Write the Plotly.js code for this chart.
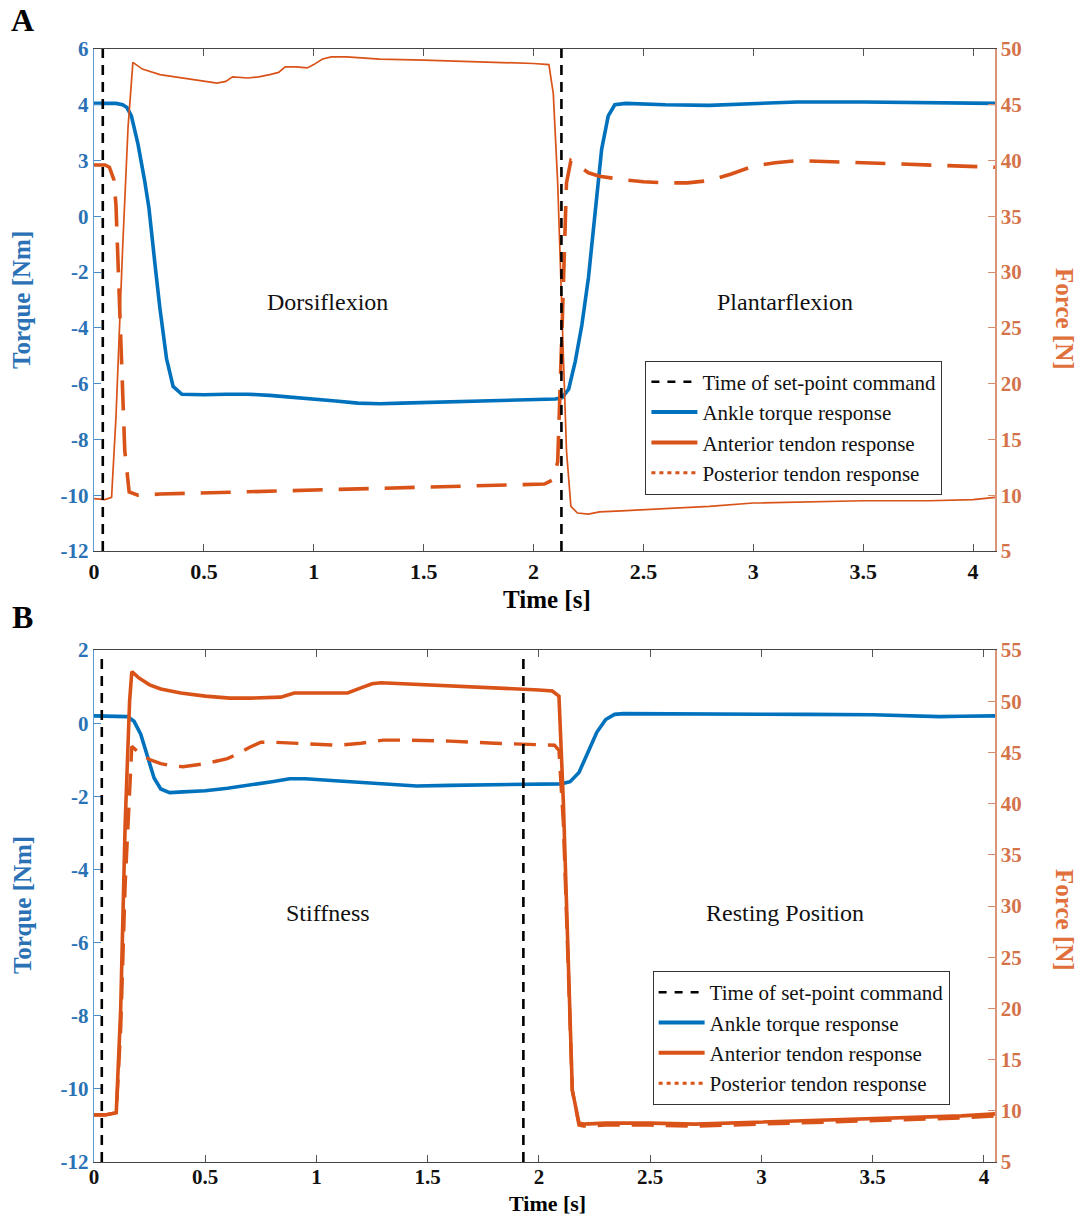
<!DOCTYPE html>
<html>
<head>
<meta charset="utf-8">
<script src="https://cdn.plot.ly/plotly-3.0.1.min.js"></script>
<style>html,body{margin:0;padding:0;background:#fff;}#chart{width:1080px;height:1217px;}</style>
</head>
<body>
<div id="chart"></div>
<script>
// ---------- Panel A data ----------
const A_cmd_t = [0.04, 2.127];
const A_torque_t = [0, 0.05, 0.10, 0.13, 0.15, 0.17, 0.20, 0.23, 0.25, 0.28, 0.30, 0.33, 0.36, 0.40, 0.45, 0.5, 0.6, 0.7, 0.8, 0.9, 1.0, 1.1, 1.2, 1.3, 1.4, 1.5, 1.7, 1.9, 2.0, 2.1, 2.13, 2.16, 2.19, 2.22, 2.25, 2.28, 2.31, 2.34, 2.37, 2.42, 2.6, 2.8, 3.0, 3.2, 3.5, 3.8, 4.1];
const A_torque_v = [4.05, 4.05, 4.05, 4.0, 3.9, 3.6, 2.6, 1.3, 0.3, -1.9, -3.3, -5.1, -6.1, -6.38, -6.4, -6.4, -6.38, -6.38, -6.42, -6.48, -6.55, -6.62, -6.7, -6.72, -6.7, -6.68, -6.65, -6.62, -6.6, -6.55, -6.5, -6.2, -5.2, -3.9, -2.2, 0.2, 2.4, 3.6, 4.0, 4.05, 4.0, 3.98, 4.03, 4.1, 4.1, 4.08, 4.05];
const A_ant_t = [0, 0.05, 0.08, 0.10, 0.13, 0.155, 0.177, 0.22, 0.3, 0.4, 0.5, 0.56, 0.6, 0.63, 0.7, 0.75, 0.8, 0.84, 0.87, 0.92, 0.97, 1.0, 1.04, 1.08, 1.15, 1.3, 1.5, 1.7, 1.9, 2.0, 2.07, 2.09, 2.11, 2.13, 2.15, 2.17, 2.2, 2.25, 2.3, 2.4, 2.6, 2.8, 3.0, 3.2, 3.5, 3.8, 4.0, 4.1];
const A_ant_f = [9.7, 9.6, 9.8, 17, 32, 43, 48.8, 48.2, 47.7, 47.4, 47.1, 46.95, 47.1, 47.5, 47.4, 47.5, 47.7, 47.9, 48.4, 48.4, 48.3, 48.6, 49.1, 49.3, 49.3, 49.1, 49.0, 48.9, 48.8, 48.7, 48.6, 46, 38, 25, 14, 9.0, 8.4, 8.3, 8.5, 8.6, 8.8, 9.0, 9.3, 9.4, 9.5, 9.5, 9.6, 9.8];
const A_post_t = [0, 0.05, 0.07, 0.09, 0.10, 0.12, 0.14, 0.16, 0.2, 0.3, 0.5, 0.8, 1.0, 1.3, 1.6, 1.9, 2.05, 2.09, 2.11, 2.13, 2.15, 2.17, 2.2, 2.25, 2.3, 2.4, 2.5, 2.6, 2.7, 2.8, 2.9, 3.0, 3.1, 3.2, 3.5, 3.8, 4.0, 4.1];
const A_post_f = [39.6, 39.6, 39.4, 38.3, 36, 25, 14, 10.3, 10.0, 10.1, 10.2, 10.4, 10.5, 10.6, 10.8, 10.9, 11.0, 11.4, 13.0, 25, 38, 40.0, 39.6, 38.9, 38.6, 38.3, 38.1, 38.0, 38.0, 38.2, 38.8, 39.5, 39.8, 40.0, 39.8, 39.6, 39.5, 39.4];

// ---------- Panel B data ----------
const B_cmd_t = [0.035, 1.93];
const B_torque_t = [0, 0.1, 0.15, 0.18, 0.21, 0.24, 0.27, 0.3, 0.34, 0.4, 0.5, 0.6, 0.7, 0.8, 0.88, 0.95, 1.05, 1.15, 1.25, 1.35, 1.45, 1.6, 1.8, 2.0, 2.1, 2.14, 2.18, 2.22, 2.26, 2.3, 2.34, 2.38, 2.5, 2.8, 3.2, 3.5, 3.6, 3.7, 3.8, 3.9, 4.05];
const B_torque_v = [0.2, 0.2, 0.18, 0.05, -0.3, -0.9, -1.5, -1.8, -1.9, -1.88, -1.85, -1.78, -1.7, -1.6, -1.52, -1.52, -1.56, -1.6, -1.62, -1.68, -1.72, -1.7, -1.68, -1.66, -1.66, -1.6, -1.35, -0.8, -0.25, 0.1, 0.24, 0.26, 0.26, 0.25, 0.24, 0.23, 0.21, 0.19, 0.18, 0.19, 0.2];
const B_ant_t = [0, 0.05, 0.1, 0.12, 0.14, 0.16, 0.17, 0.2, 0.25, 0.3, 0.39, 0.5, 0.61, 0.7, 0.84, 0.9, 1.0, 1.14, 1.2, 1.25, 1.29, 1.4, 1.6, 1.8, 2.0, 2.06, 2.09, 2.11, 2.13, 2.15, 2.18, 2.2, 2.3, 2.5, 2.7, 3.0, 3.3, 3.6, 3.9, 4.05];
const B_ant_f = [9.6, 9.6, 9.8, 20, 38, 50, 52.9, 52.3, 51.6, 51.2, 50.8, 50.5, 50.3, 50.3, 50.4, 50.8, 50.8, 50.8, 51.3, 51.7, 51.8, 51.7, 51.5, 51.3, 51.1, 51.0, 50.5, 40, 25, 12, 8.8, 8.7, 8.8, 8.8, 8.7, 8.9, 9.1, 9.3, 9.5, 9.7];
const B_post_t = [0, 0.05, 0.1, 0.12, 0.14, 0.16, 0.17, 0.2, 0.25, 0.3, 0.35, 0.4, 0.5, 0.6, 0.65, 0.7, 0.75, 0.8, 0.9, 1.0, 1.1, 1.2, 1.3, 1.4, 1.6, 1.8, 2.0, 2.07, 2.09, 2.11, 2.13, 2.15, 2.18, 2.2, 2.3, 2.5, 2.7, 3.0, 3.3, 3.6, 3.9, 4.05];
const B_post_f = [9.6, 9.6, 9.8, 18, 32, 42, 45.6, 45.0, 44.3, 43.9, 43.7, 43.6, 43.9, 44.4, 44.9, 45.5, 46.0, 46.0, 45.9, 45.8, 45.7, 45.9, 46.2, 46.2, 46.1, 45.9, 45.8, 45.7, 45.2, 38, 25, 12, 8.6, 8.5, 8.6, 8.6, 8.5, 8.7, 8.9, 9.1, 9.3, 9.5];

// ---------- Tick labels ----------
const x_ticks = [0, 0.5, 1, 1.5, 2, 2.5, 3, 3.5, 4];
const x_tick_text = ['0', '0.5', '1', '1.5', '2', '2.5', '3', '3.5', '4'];
const A_torque_ticks = [-12, -10, -8, -6, -4, -2, 0, 2, 4, 6];
const A_torque_tick_text = ['-12', '-10', '-8', '-6', '-4', '-2', '0', '3', '4', '6'];
const A_force_ticks = [5, 10, 15, 20, 25, 30, 35, 40, 45, 50];
const B_torque_ticks = [-12, -10, -8, -6, -4, -2, 0, 2];
const B_force_ticks = [5, 10, 15, 20, 25, 30, 35, 40, 45, 50, 55];
const legend_names = ['Time of set-point command', 'Ankle torque response', 'Anterior tendon response', 'Posterior tendon response'];
const region_labels_A = ['Dorsiflexion', 'Plantarflexion'];
const region_labels_B = ['Stiffness', 'Resting Position'];

const BLUE = '#0072BD';
const ORANGE = '#D95319';
const SERIF = '"Liberation Serif", "Times New Roman", serif';
const TICKBLUE = '#2a72b5';
const TICKORANGE = '#d4724a';

const traces = [
  // Panel A
  {x: A_torque_t, y: A_torque_v, xaxis: 'x', yaxis: 'y', mode: 'lines', line: {color: BLUE, width: 3.6}, showlegend: false},
  {x: A_ant_t, y: A_ant_f, xaxis: 'x', yaxis: 'y2', mode: 'lines', line: {color: ORANGE, width: 1.7}, showlegend: false},
  {x: A_post_t, y: A_post_f, xaxis: 'x', yaxis: 'y2', mode: 'lines', line: {color: ORANGE, width: 3.6, dash: '30px,16px'}, showlegend: false},
  // Panel B
  {x: B_post_t, y: B_post_f, xaxis: 'x2', yaxis: 'y4', mode: 'lines', line: {color: ORANGE, width: 3.4, dash: '22px,12px'}, showlegend: false},
  {x: B_ant_t, y: B_ant_f, xaxis: 'x2', yaxis: 'y4', mode: 'lines', line: {color: ORANGE, width: 3.6}, showlegend: false},
  {x: B_torque_t, y: B_torque_v, xaxis: 'x2', yaxis: 'y3', mode: 'lines', line: {color: BLUE, width: 3.6}, showlegend: false}
];

// legend-only entries
const legendStyles = [
  {color: '#000', width: 2.5, dash: '8px,8px'},
  {color: BLUE, width: 4},
  {color: ORANGE, width: 4},
  {color: ORANGE, width: 3, dash: '4px,4px'}
];
['legend', 'legend2'].forEach(function (lg, k) {
  legend_names.forEach(function (nm, i) {
    traces.push({x: [null], y: [null], xaxis: k ? 'x2' : 'x', yaxis: k ? 'y3' : 'y', mode: 'lines',
      name: nm, line: legendStyles[i], legend: lg, showlegend: true});
  });
});

const shapes = [];
A_cmd_t.forEach(function (t) {
  shapes.push({type: 'line', xref: 'x', yref: 'y domain', x0: t, x1: t, y0: 0, y1: 1,
    line: {color: '#000', width: 2.6, dash: '10px,7px'}});
});
B_cmd_t.forEach(function (t) {
  shapes.push({type: 'line', xref: 'x2', yref: 'y3 domain', x0: t, x1: t, y0: 0, y1: 0.985,
    line: {color: '#000', width: 2.6, dash: '10px,7px'}});
});

function xAxis(anchor, range, standoff, fsize) {
  return {
    domain: [0, 1], anchor: anchor, range: range,
    tickvals: x_ticks, ticktext: x_tick_text,
    ticks: 'inside', ticklen: 7, tickcolor: '#555', tickwidth: 1,
    ticklabelstandoff: standoff,
    showline: true, linecolor: '#444', linewidth: 1.2, mirror: 'ticks',
    showgrid: false, zeroline: false,
    tickfont: {family: SERIF, size: fsize, color: '#111', weight: 'bold'}
  };
}
function leftAxis(domain, anchor, range, tv, tt) {
  return {
    domain: domain, anchor: anchor, range: range, tickvals: tv, ticktext: tt,
    ticks: 'inside', ticklen: 7, tickcolor: '#4a8cc8', showline: true, linecolor: '#5f9bd0', linewidth: 1.3,
    showgrid: false, zeroline: false,
    tickfont: {family: SERIF, size: 21, color: TICKBLUE, weight: 'bold'}
  };
}
function rightAxis(overlay, anchor, range, tv) {
  return {
    overlaying: overlay, anchor: anchor, side: 'right', range: range, tickvals: tv,
    ticks: 'inside', ticklen: 7, tickcolor: '#d98c6c', showline: true, linecolor: '#dc9478', linewidth: 1.5,
    showgrid: false, zeroline: false,
    tickfont: {family: SERIF, size: 21, color: TICKORANGE, weight: 'bold'}
  };
}

function ann(text, x, y, size, color, weight, angle) {
  const a = {text: text, xref: 'paper', yref: 'paper', x: x, y: y, xanchor: 'center', yanchor: 'middle',
    showarrow: false, font: {family: SERIF, size: size, color: color, weight: weight}};
  if (angle) a.textangle = angle;
  return a;
}

const legendCommon = {xanchor: 'left', yanchor: 'top', bgcolor: '#fff', bordercolor: '#333', borderwidth: 1,
  font: {family: SERIF, size: 21, color: '#111'}, tracegroupgap: 0, itemwidth: 46};

const layout = {
  width: 1080, height: 1217,
  margin: {l: 94, r: 85, t: 49, b: 55},
  paper_bgcolor: '#fff', plot_bgcolor: '#fff',
  font: {family: SERIF},
  xaxis: xAxis('y', [0, 4.1], 0, 22),
  yaxis: leftAxis([0.549, 1], 'x', [-12, 6], A_torque_ticks, A_torque_tick_text),
  yaxis2: rightAxis('y', 'x', [5, 50], A_force_ticks),
  xaxis2: xAxis('y3', [0, 4.05], -4, 21),
  yaxis3: leftAxis([0, 0.46], 'x2', [-12, 2], B_torque_ticks, B_torque_ticks.map(String)),
  yaxis4: rightAxis('y3', 'x2', [5, 55], B_force_ticks),
  legend: Object.assign({x: 0.612, y: 0.7200}, legendCommon),
  legend2: Object.assign({x: 0.620, y: 0.1715}, legendCommon),
  shapes: shapes,
  annotations: [
    ann('A', -0.0799, 1.026, 32, '#000', 'bold'),
    ann('B', -0.0799, 0.4897, 32, '#000', 'bold'),
    ann('Time [s]', 0.5028, 0.505, 25, '#000', 'bold'),
    ann('Time [s]', 0.5028, -0.03684, 22, '#000', 'bold'),
    ann('Torque [Nm]', -0.0799, 0.7745, 25, TICKBLUE, 'bold', -90),
    ann('Torque [Nm]', -0.0799, 0.2309, 25, TICKBLUE, 'bold', -90),
    ann('Force [N]', 1.0777, 0.7574, 25, '#e0703c', 'bold', 90),
    ann('Force [N]', 1.0777, 0.2174, 25, '#e0703c', 'bold', 90),
    ann(region_labels_A[0], 0.2597, 0.7727, 24, '#111', 'normal'),
    ann(region_labels_A[1], 0.767, 0.7727, 24, '#111', 'normal'),
    ann(region_labels_B[0], 0.2597, 0.2237, 24, '#111', 'normal'),
    ann(region_labels_B[1], 0.767, 0.2237, 24, '#111', 'normal')
  ]
};

Plotly.newPlot('chart', traces, layout, {displayModeBar: false, staticPlot: true});
</script>
</body>
</html>
